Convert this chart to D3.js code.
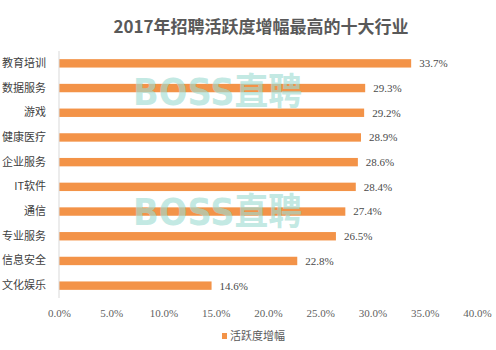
<!DOCTYPE html>
<html>
<head>
<meta charset="utf-8">
<script src="https://cdn.jsdelivr.net/npm/d3@7"></script>
<style>
  html, body { margin: 0; padding: 0; background: #fff; }
  svg { display: block; }
  .serif text, text.serif { font-family: 'Liberation Serif', 'DejaVu Serif', serif; }
</style>
</head>
<body>
<svg id="chart" width="496" height="350"></svg>
<script>
const categories = ["教育培训", "数据服务", "游戏", "健康医疗", "企业服务", "IT软件", "通信", "专业服务", "信息安全", "文化娱乐"];
const values = [33.7, 29.3, 29.2, 28.9, 28.6, 28.4, 27.4, 26.5, 22.8, 14.6];
const tickValues = [0, 5, 10, 15, 20, 25, 30, 35, 40];
const seriesName = "活跃度增幅";
const titleText = "2017年招聘活跃度增幅最高的十大行业";
const watermark = "BOSS直聘";

const svg = d3.select("#chart");
const margin = { left: 59, right: 19, top: 51, bottom: 52 };
const W = 496, H = 350;

const x = d3.scaleLinear().domain([0, 40]).range([margin.left, W - margin.right]);
const y = d3.scaleBand().domain(categories).range([margin.top, H - margin.bottom]).paddingInner(0.66).paddingOuter(0.33);

const serif = "'Liberation Serif', 'DejaVu Serif', serif";
const sans = "'Noto Sans CJK SC', 'Noto Sans', sans-serif";

// Title
svg.append("text")
  .attr("x", 261).attr("y", 33)
  .attr("text-anchor", "middle")
  .attr("font-family", sans)
  .attr("font-weight", "bold")
  .attr("font-size", 17)
  .attr("fill", "#595959")
  .text(titleText);

// Bars
svg.append("g").selectAll("rect")
  .data(values)
  .join("rect")
  .attr("x", x(0))
  .attr("y", (d, i) => y(categories[i]))
  .attr("width", d => x(d) - x(0))
  .attr("height", y.bandwidth())
  .attr("fill", "#f39348");

// Value labels
svg.append("g").attr("class", "serif").selectAll("text")
  .data(values)
  .join("text")
  .attr("x", d => x(d) + 8)
  .attr("y", (d, i) => y(categories[i]) + y.bandwidth() / 2)
  .attr("dy", "0.35em")
  .attr("font-size", 11)
  .attr("fill", "#4a4a4a")
  .text(d => d.toFixed(1) + "%");

// Category axis
const yAxis = svg.append("g")
  .attr("transform", `translate(${margin.left},0)`)
  .call(d3.axisLeft(y).tickSize(0).tickPadding(13));
yAxis.select(".domain").attr("stroke", "#d9d9d9").attr("d", `M0,${margin.top}V${H - margin.bottom}`);
yAxis.selectAll("text")
  .attr("font-family", sans)
  .attr("font-size", 11)
  .attr("fill", "#404040");

// Value axis (labels only)
const xAxis = svg.append("g")
  .attr("class", "serif")
  .attr("transform", `translate(0,${H - margin.bottom})`)
  .call(d3.axisBottom(x).tickValues(tickValues).tickSize(0).tickPadding(11).tickFormat(d => d.toFixed(1) + "%"));
xAxis.attr("font-family", null);
xAxis.select(".domain").remove();
xAxis.selectAll("text")
  .attr("font-size", 11)
  .attr("fill", "#5f5f5f");

// Watermarks
[92, 212].forEach(cy => {
  svg.append("text")
    .attr("x", 133).attr("y", cy)
    .attr("dy", "0.35em")
    .attr("font-family", "'DejaVu Sans', 'Noto Sans CJK SC', sans-serif")
    .attr("font-weight", "bold")
    .attr("font-size", 37)
    .attr("textLength", 169)
    .attr("lengthAdjust", "spacingAndGlyphs")
    .attr("fill", "#9fdcd3")
    .attr("fill-opacity", 0.65)
    .text(watermark);
});

// Legend
const legend = svg.append("g");
legend.append("rect")
  .attr("x", 222).attr("y", 333)
  .attr("width", 5).attr("height", 6)
  .attr("fill", "#f39348");
legend.append("text")
  .attr("x", 230).attr("y", 336)
  .attr("dy", "0.35em")
  .attr("font-family", sans)
  .attr("font-size", 11)
  .attr("fill", "#595959")
  .text(seriesName);
</script>
</body>
</html>
